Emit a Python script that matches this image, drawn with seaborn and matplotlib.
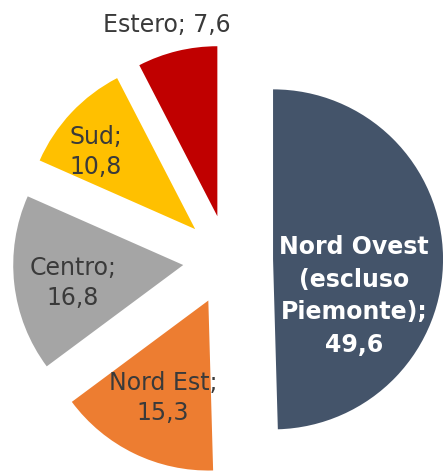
import matplotlib
matplotlib.use("Agg")
import matplotlib.pyplot as plt
import seaborn as sns

# quote per area (valori in %)
aree = ["Nord Ovest\n(escluso\nPiemonte);\n49,6", "Nord Est;\n15,3", "Centro;\n16,8", "Sud;\n10,8", "Estero; 7,6"]
quote = [49.6, 15.3, 16.8, 10.8, 7.6]
colori = ["#44546A", "#ED7D31", "#A5A5A5", "#FFC000", "#C00000"]

# posizioni delle etichette (coordinate dati, raggio = 1)
pos_etichette = [(0.741, -0.212), (-0.382, -0.812), (-0.912, -0.135), (-0.776, 0.635), (-0.359, 1.382)]


def main():
    sns.set_theme(style="white")
    plt.rcParams["font.family"] = ["DejaVu Sans"]

    fig = plt.figure(figsize=(4.43, 4.72), dpi=100)
    ax = fig.add_axes([0, 0, 1, 1])

    ax.pie(quote, colors=colori, startangle=90, counterclock=False,
           explode=[0.265] * len(quote), radius=1,
           wedgeprops=dict(linewidth=0))

    for i, (testo, (x, y)) in enumerate(zip(aree, pos_etichette)):
        if i == 0:
            ax.text(x, y, testo, ha="center", va="center", color="white",
                    fontsize=17, fontweight="bold", linespacing=1.45)
        else:
            ax.text(x, y, testo, ha="center", va="center", color="#3A3A3A",
                    fontsize=17, linespacing=1.35)

    ax.set_xlim(-228 / 170, (443 - 228) / 170)
    ax.set_ylim(-(472 - 260) / 170, 260 / 170)
    ax.set_aspect("auto")
    ax.axis("off")

    fig.savefig("out.png", dpi=100)


if __name__ == "__main__":
    main()
